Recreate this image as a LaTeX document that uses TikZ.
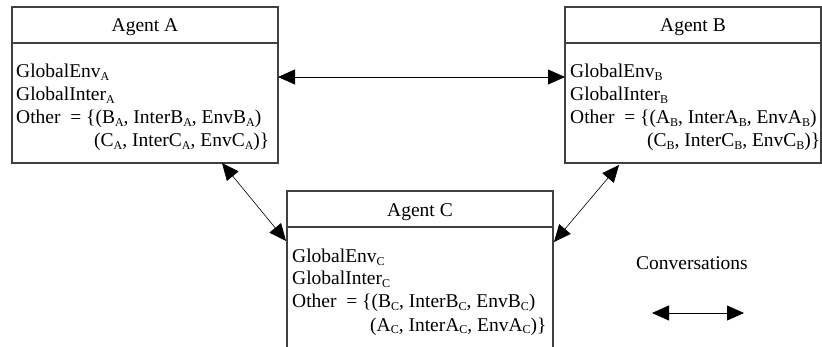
\documentclass[tikz,border=0pt]{standalone}
\usepackage{fontspec}
\setmainfont{Liberation Serif}
\usetikzlibrary{arrows.meta}
\newcommand{\sbs}[1]{\raisebox{-2.5pt}{\fontsize{12}{12}\selectfont #1}}
\tikzset{
  box/.style={draw=black!75, line width=1.1pt},
  txt/.style={anchor=base west, inner sep=0pt, font=\fontsize{19.5}{22}\selectfont},
  head/.style={anchor=base, inner sep=0pt, font=\fontsize{19.5}{22}\selectfont},
  conv/.style={line width=0.8pt, {Triangle[length=17pt,width=15pt]}-{Triangle[length=17pt,width=15pt]}},
}
\begin{document}
\begin{tikzpicture}[x=1pt,y=-1pt]
\useasboundingbox[fill=white] (0,0) rectangle (822,347);
% Agent A
\draw[box] (12,7) rectangle (278,163);
\draw[box] (12,43) -- (278,43);
\node[head] (ha) at (145,32) {Agent A};
\node[txt] (a1) at (16,78) {GlobalEnv\sbs{A}};
\node[txt] (a2) at (16,101) {GlobalInter\sbs{A}};
\node[txt] (a3) at (16,124) {Other \ = \{(B\sbs{A}, InterB\sbs{A}, EnvB\sbs{A})};
\node[txt] (a4) at (94,147) {(C\sbs{A}, InterC\sbs{A}, EnvC\sbs{A})\}};
\coordinate (Ar) at (278,77);
\coordinate (Ab) at (222,163);
% Agent B
\draw[box] (565,7) rectangle (821,163);
\draw[box] (565,43) -- (821,43);
\node[head] (hb) at (693,32) {Agent B};
\node[txt] (b1) at (570,78) {GlobalEnv\sbs{B}};
\node[txt] (b2) at (570,101) {GlobalInter\sbs{B}};
\node[txt] (b3) at (570,124) {Other \ = \{(A\sbs{B}, InterA\sbs{B}, EnvA\sbs{B})};
\node[txt] (b4) at (647,147) {(C\sbs{B}, InterC\sbs{B}, EnvC\sbs{B})\}};
\coordinate (Bl) at (565,77);
\coordinate (Bb) at (619,165);
% Agent C
\draw[box] (287,352) -- (287,191) -- (553,191) -- (553,352);
\draw[box] (287,227) -- (553,227);
\node[head] (hc) at (420,217) {Agent C};
\node[txt] (c1) at (292,263) {GlobalEnv\sbs{C}};
\node[txt] (c2) at (292,285) {GlobalInter\sbs{C}};
\node[txt] (c3) at (292,308) {Other \ = \{(B\sbs{C}, InterB\sbs{C}, EnvB\sbs{C})};
\node[txt] (c4) at (370,331) {(A\sbs{C}, InterA\sbs{C}, EnvA\sbs{C})\}};
\coordinate (Cl) at (286,241);
\coordinate (Cr) at (554,242);
% connectors
\draw[conv] (Ar) -- (Bl);
\draw[conv, line width=0.6pt] (Ab) -- (Cl);
\draw[conv, line width=0.6pt] (Bb) -- (Cr);
% legend
\node[head] (leg) at (692,270) {Conversations};
\coordinate (L1) at (652,313);
\coordinate (L2) at (744,313);
\draw[conv] (L1) -- (L2);
\end{tikzpicture}
\end{document}
